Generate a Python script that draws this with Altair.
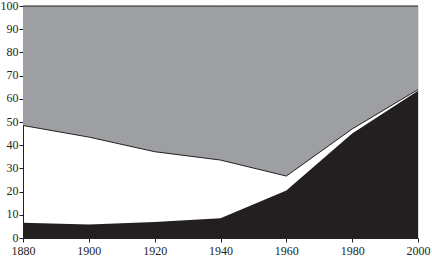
import altair as alt
import pandas as pd

years = [1880, 1900, 1920, 1940, 1960, 1980, 2000]
black_share = [6.6, 5.8, 6.9, 8.5, 20.5, 45.0, 63.5]
gray_lower = [48.5, 43.5, 37.2, 33.6, 26.7, 47.0, 64.0]
top = [100] * len(years)
x_ticks = [1880, 1900, 1920, 1940, 1960, 1980, 2000]
y_ticks = [0, 10, 20, 30, 40, 50, 60, 70, 80, 90, 100]

df = pd.DataFrame({"year": years, "black": black_share, "gray": gray_lower, "top": top})

font = "Liberation Serif"
xaxis = alt.Axis(values=x_ticks, format="d", title=None, grid=False)
yaxis = alt.Axis(values=y_ticks, title=None, grid=False)
xscale = alt.Scale(domain=[1880, 2000], nice=False)
yscale = alt.Scale(domain=[0, 100], nice=False)

def X():
    return alt.X("year:Q", scale=xscale, axis=xaxis)

def Y(f):
    return alt.Y(f, scale=yscale, axis=yaxis)

base = alt.Chart(df)
gray_area = base.mark_area(color="#9d9fa2", opacity=1).encode(
    x=X(), y=Y("gray:Q"), y2="top:Q")
gray_line = base.mark_line(color="#231f20", strokeWidth=1).encode(x=X(), y=Y("gray:Q"))
top_line = base.mark_line(color="#231f20", strokeWidth=1).encode(x=X(), y=Y("top:Q"))
black_area = base.mark_area(color="#231f20", opacity=1).encode(x=X(), y=Y("black:Q"))

chart = alt.layer(gray_area, gray_line, top_line, black_area).properties(
    width=395, height=232,
    autosize=alt.AutoSizeParams(type="none"),
    padding={"left": 23, "top": 6, "right": 14, "bottom": 20},
).configure_view(stroke=None).configure(background="white").configure_axis(
    labelFont=font, labelFontSize=12, labelColor="#231f20", domainColor="#231f20",
    tickColor="#231f20", tickSize=4, labelPadding=1, labelOverlap=False,
    labelFlush=False, labelBound=False,
).configure_axisX(labelPadding=3).configure_axisY(labelOffset=-1)

chart.save("out.html", embed_options={"renderer": "svg", "actions": False})
